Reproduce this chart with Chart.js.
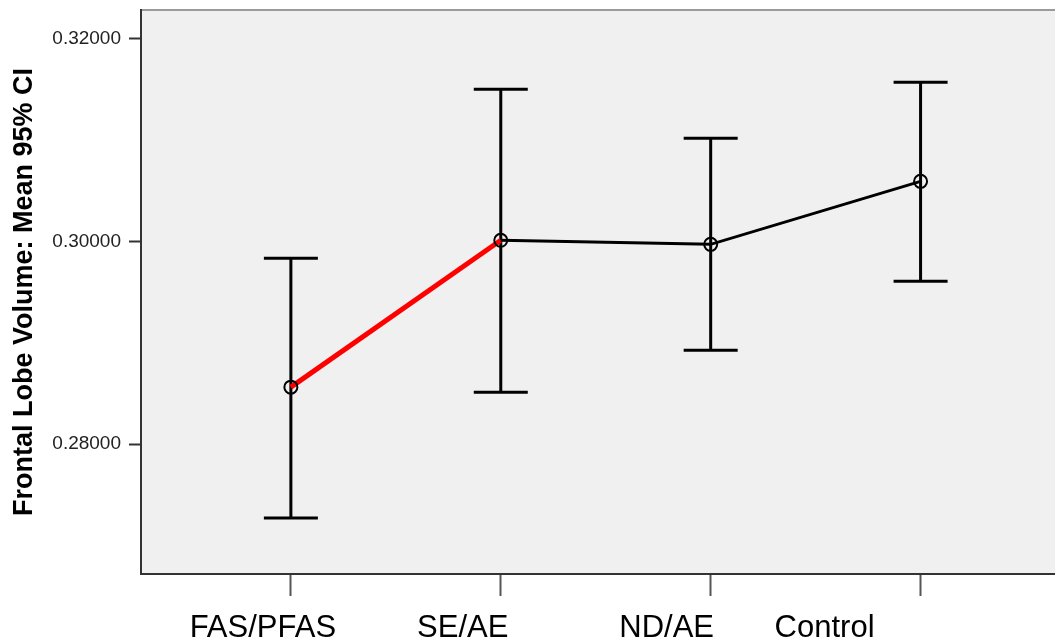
<!DOCTYPE html>
<html>
<head>
<meta charset="utf-8">
<script src="https://cdn.jsdelivr.net/npm/chart.js@4/dist/chart.umd.min.js"></script>
<style>
  html, body { margin: 0; padding: 0; background: #ffffff; overflow: hidden; }
  #wrap { width: 1055px; height: 643px; position: relative; overflow: hidden; }
</style>
</head>
<body>
<div id="wrap"><canvas id="c" width="1063" height="643"></canvas></div>
<script>
const categories = ["FAS/PFAS", "SE/AE", "ND/AE", "Control"];
const means = [0.28562, 0.30010, 0.29970, 0.30591];
const upperCI = [0.29833, 0.31498, 0.31015, 0.31567];
const lowerCI = [0.27271, 0.28512, 0.28926, 0.29606];
const yTickValues = [0.28, 0.30, 0.32];

// layout-only constants
const LABEL_SHIFT = [-28, -38, -44, -96];

const points = means.map((m, i) => ({ x: i + 1, y: m }));

const bgPlugin = {
  id: 'bg',
  beforeDraw(chart) {
    const { ctx, chartArea: a } = chart;
    ctx.save();
    ctx.fillStyle = '#f0f0f0';
    ctx.fillRect(a.left, a.top, a.right - a.left + 10, a.bottom - a.top);
    ctx.strokeStyle = '#9a9a9a';
    ctx.lineWidth = 2;
    ctx.beginPath();
    ctx.moveTo(a.left, a.top);
    ctx.lineTo(a.right + 10, a.top);
    ctx.stroke();
    ctx.restore();
  }
};

const errPlugin = {
  id: 'err',
  beforeDatasetsDraw(chart) {
    const { ctx } = chart;
    const xs = chart.scales.x, ys = chart.scales.y;
    ctx.save();
    ctx.strokeStyle = '#000';
    ctx.lineWidth = 3;
    ctx.lineCap = 'butt';
    for (let i = 0; i < categories.length; i++) {
      const px = xs.getPixelForValue(i + 1);
      const pu = ys.getPixelForValue(upperCI[i]);
      const pl = ys.getPixelForValue(lowerCI[i]);
      ctx.beginPath();
      ctx.moveTo(px, pu); ctx.lineTo(px, pl);
      ctx.moveTo(px - 27, pu); ctx.lineTo(px + 27, pu);
      ctx.moveTo(px - 27, pl); ctx.lineTo(px + 27, pl);
      ctx.stroke();
    }
    ctx.restore();
  },
  afterDraw(chart) {
    const { ctx } = chart;
    const xs = chart.scales.x;
    ctx.save();
    ctx.fillStyle = '#000';
    ctx.font = '31px "Liberation Sans", Arial, sans-serif';
    ctx.textAlign = 'center';
    ctx.textBaseline = 'alphabetic';
    for (let i = 0; i < categories.length; i++) {
      const px = xs.getPixelForValue(i + 1) + LABEL_SHIFT[i];
      ctx.fillText(categories[i], px, 637);
    }
    ctx.restore();
  }
};

new Chart(document.getElementById('c'), {
  type: 'line',
  data: {
    datasets: [{
      data: points,
      borderColor: '#000',
      borderWidth: 3,
      segment: {
        borderColor: c => c.p0DataIndex === 0 ? '#ff0000' : '#000000',
        borderWidth: c => c.p0DataIndex === 0 ? 5 : 3
      },
      pointStyle: 'circle',
      pointRadius: 6.5,
      pointBorderWidth: 2,
      pointBorderColor: '#000',
      pointBackgroundColor: 'rgba(0,0,0,0)',
      tension: 0,
      fill: false
    }]
  },
  options: {
    responsive: false,
    animation: false,
    events: [],
    layout: { padding: { top: 10, right: 0, left: 0, bottom: 0 } },
    plugins: { legend: { display: false }, tooltip: { enabled: false } },
    scales: {
      x: {
        type: 'linear',
        min: 0.286,
        max: 4.638,
        afterBuildTicks: s => { s.ticks = categories.map((c, i) => ({ value: i + 1 })); },
        afterFit: s => { s.height = 69; s.paddingLeft = 0; s.paddingRight = 0; },
        ticks: { display: false },
        grid: { drawOnChartArea: false, drawTicks: true, tickLength: 22, tickColor: '#555', tickWidth: 2 },
        border: { display: true, color: '#333', width: 2 }
      },
      y: {
        type: 'linear',
        min: 0.2672,
        max: 0.3228,
        afterBuildTicks: s => { s.ticks = yTickValues.map(v => ({ value: v })); },
        afterFit: s => { s.width = 141; s.paddingTop = 0; s.paddingBottom = 0; },
        ticks: {
          callback: v => Number(v).toFixed(5),
          color: '#222',
          font: { family: '"Liberation Sans", Arial, sans-serif', size: 19 },
          padding: 8
        },
        grid: { drawOnChartArea: false, drawTicks: true, tickLength: 12, tickColor: '#333', tickWidth: 2 },
        border: { display: true, color: '#333', width: 2 },
        title: {
          display: true,
          text: 'Frontal Lobe Volume: Mean 95% CI',
          color: '#000',
          font: { family: '"Liberation Sans", Arial, sans-serif', size: 27, weight: 'bold' },
          padding: { top: 8, bottom: 0 }
        }
      }
    }
  },
  plugins: [bgPlugin, errPlugin]
});
</script>
</body>
</html>
